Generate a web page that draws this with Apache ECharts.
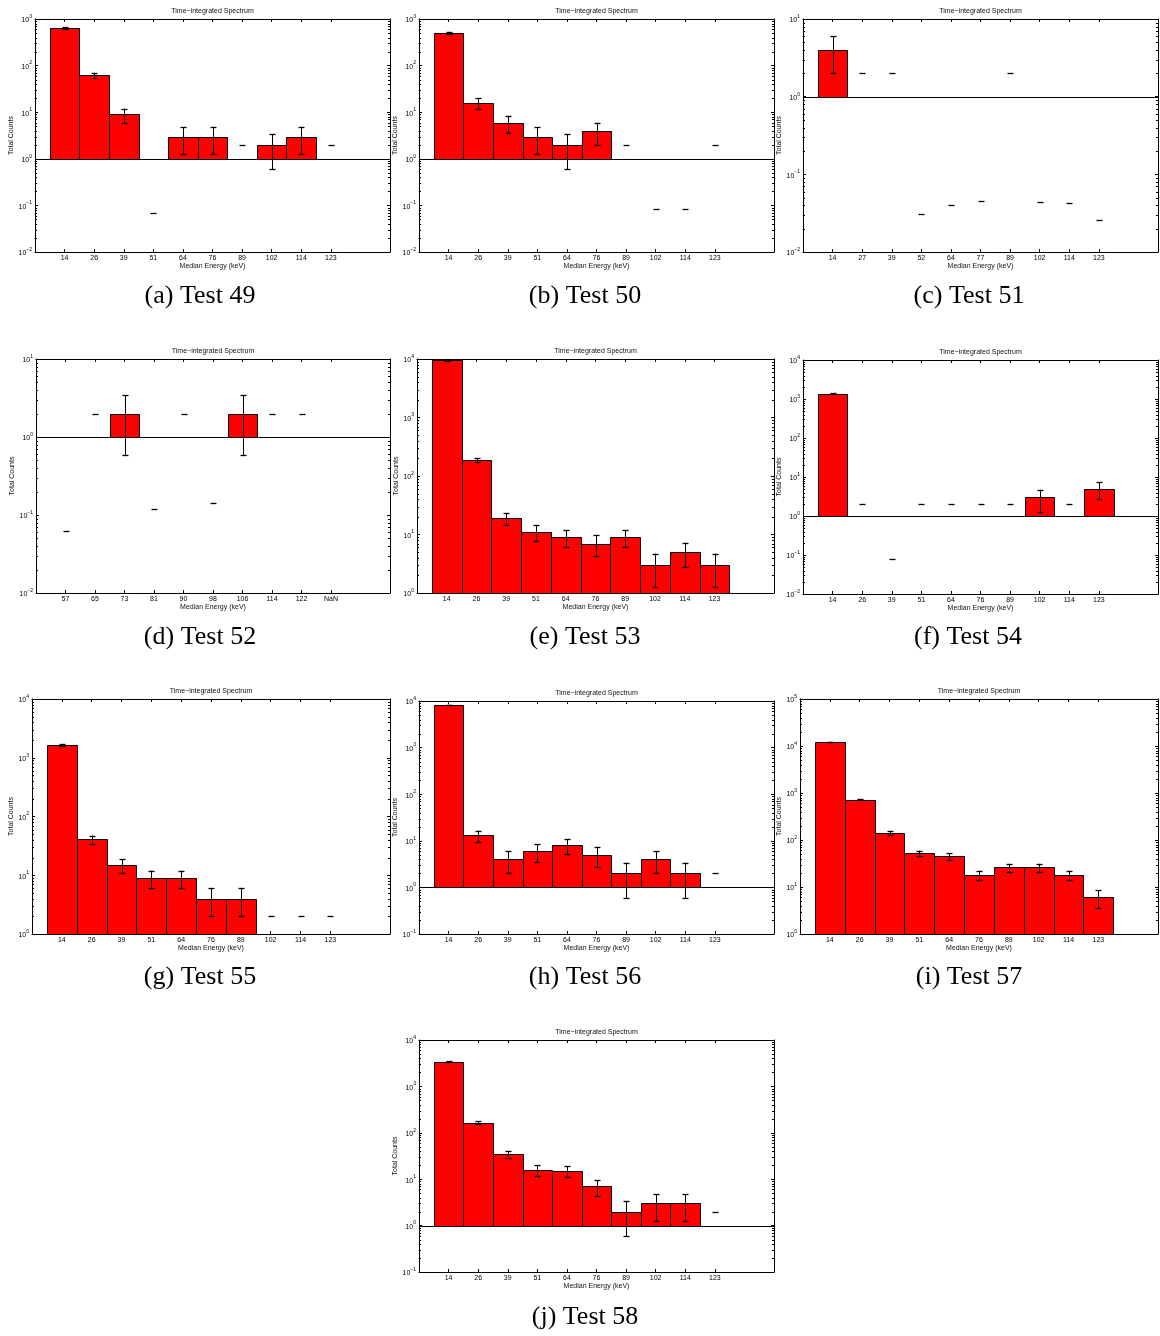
<!DOCTYPE html>
<html>
<head>
<meta charset="utf-8">
<title>Time-integrated Spectra, Tests 49-58</title>
<script src="https://cdn.jsdelivr.net/npm/echarts@6/dist/echarts.min.js"></script>
<style>
  html, body { margin: 0; padding: 0; background: #fff; }
  #main { width: 1160px; height: 1336px; }
</style>
</head>
<body>
<div id="main"></div>
<script>
// ---- Median energy bin labels (keV) ----
const energyLabels   = ['14', '26', '39', '51', '64', '76', '89', '102', '114', '123'];
const energyLabels51 = ['14', '27', '39', '52', '64', '77', '89', '102', '114', '123'];
const energyLabels52 = ['57', '65', '73', '81', '90', '98', '106', '114', '122', 'NaN'];

// ---- Total counts per bin, with error-bar lower / upper ends (null = not drawn) ----
const counts49  = [640, 62, 9, null, 3, 3, 1, 2, 3, 1];
const errLow49  = [615, 54, 6, null, 1.27, 1.27, null, 0.59, 1.27, null];
const errHigh49 = [665, 70, 12, 0.07, 4.73, 4.73, 2, 3.41, 4.73, 2];

const counts50  = [510, 16, 6, 3, 2, 4, 1, null, null, 1];
const errLow50  = [487, 12, 3.55, 1.27, 0.59, 2, null, null, null, null];
const errHigh50 = [533, 20, 8.45, 4.73, 3.41, 6, 2, 0.085, 0.083, 2];

const counts51  = [4, 1, 1, null, null, null, 1, null, null, null];
const errLow51  = [2, null, null, null, null, null, null, null, null, null];
const errHigh51 = [6, 2, 2, 0.031, 0.040, 0.045, 2, 0.044, 0.043, 0.026];

const counts52  = [null, 1, 2, null, 1, null, 2, 1, 1, null];
const errLow52  = [null, null, 0.59, null, null, null, 0.59, null, null, null];
const errHigh52 = [0.062, 2, 3.41, 0.12, 2, 0.143, 3.41, 2, 2, null];

const counts53  = [9500, 190, 19, 11, 9, 7, 9, 3, 5, 3];
const errLow53  = [9403, 176, 14.6, 7.7, 6, 4.35, 6, 1.27, 2.76, 1.27];
const errHigh53 = [9597, 204, 23.4, 14.3, 12, 9.65, 12, 4.73, 7.24, 4.73];

const counts54  = [1380, 1, null, 1, 1, 1, 1, 3, 1, 5];
const errLow54  = [1343, null, null, null, null, null, null, 1.27, null, 2.76];
const errHigh54 = [1417, 2, 0.077, 2, 2, 2, 2, 4.73, 2, 7.24];

const counts55  = [1650, 41, 15, 9, 9, 4, 4, 1, 1, 1];
const errLow55  = [1609, 34.6, 11.1, 6, 6, 2, 2, null, null, null];
const errHigh55 = [1691, 47.4, 18.9, 12, 12, 6, 6, 2, 2, 2];

const counts56  = [8300, 13, 4, 6, 8, 5, 2, 4, 2, 1];
const errLow56  = [8209, 9.4, 2, 3.55, 5.17, 2.76, 0.59, 2, 0.59, null];
const errHigh56 = [8391, 16.6, 6, 8.45, 10.83, 7.24, 3.41, 6, 3.41, 2];

const counts57  = [12000, 720, 140, 52, 45, 18, 26, 26, 18, 6];
const errLow57  = [11890, 693, 128, 44.8, 38.3, 13.8, 20.9, 20.9, 13.8, 3.55];
const errHigh57 = [12110, 747, 152, 59.2, 51.7, 22.2, 31.1, 31.1, 22.2, 8.45];

const counts58  = [3400, 165, 35, 16, 15, 7, 2, 3, 3, 1];
const errLow58  = [3342, 152, 29.1, 12, 11.1, 4.35, 0.59, 1.27, 1.27, null];
const errHigh58 = [3458, 178, 40.9, 20, 18.9, 9.65, 3.41, 4.73, 4.73, 2];

// ---- Log y-axis ranges ----
const yRange49 = [0.01, 1000];
const yRange50 = [0.01, 1000];
const yRange51 = [0.01, 10];
const yRange52 = [0.01, 10];
const yRange53 = [1, 10000];
const yRange54 = [0.01, 10000];
const yRange55 = [1, 10000];
const yRange56 = [0.1, 10000];
const yRange57 = [1, 100000];
const yRange58 = [0.1, 10000];

const captions = ['(a) Test 49', '(b) Test 50', '(c) Test 51', '(d) Test 52', '(e) Test 53',
                  '(f) Test 54', '(g) Test 55', '(h) Test 56', '(i) Test 57', '(j) Test 58'];

// ---- Panel layout: plot box and caption centre (px) ----
const panelLayout = [
  { left: 35,  top: 19,   width: 355, height: 233, cx: 200, cy: 296 },
  { left: 419, top: 19,   width: 355, height: 233, cx: 585, cy: 296 },
  { left: 803, top: 19,   width: 355, height: 233, cx: 969, cy: 296 },
  { left: 36,  top: 359,  width: 354, height: 234, cx: 200, cy: 637 },
  { left: 417, top: 359,  width: 357, height: 234, cx: 585, cy: 637 },
  { left: 803, top: 360,  width: 355, height: 234, cx: 968, cy: 637 },
  { left: 32,  top: 699,  width: 358, height: 235, cx: 200, cy: 977 },
  { left: 419, top: 701,  width: 355, height: 233, cx: 585, cy: 977 },
  { left: 800, top: 699,  width: 358, height: 235, cx: 969, cy: 977 },
  { left: 419, top: 1040, width: 355, height: 232, cx: 585, cy: 1317 }
];

const panels = [
  { labels: energyLabels,   counts: counts49, lo: errLow49, hi: errHigh49, yRange: yRange49 },
  { labels: energyLabels,   counts: counts50, lo: errLow50, hi: errHigh50, yRange: yRange50 },
  { labels: energyLabels51, counts: counts51, lo: errLow51, hi: errHigh51, yRange: yRange51 },
  { labels: energyLabels52, counts: counts52, lo: errLow52, hi: errHigh52, yRange: yRange52 },
  { labels: energyLabels,   counts: counts53, lo: errLow53, hi: errHigh53, yRange: yRange53 },
  { labels: energyLabels,   counts: counts54, lo: errLow54, hi: errHigh54, yRange: yRange54 },
  { labels: energyLabels,   counts: counts55, lo: errLow55, hi: errHigh55, yRange: yRange55 },
  { labels: energyLabels,   counts: counts56, lo: errLow56, hi: errHigh56, yRange: yRange56 },
  { labels: energyLabels,   counts: counts57, lo: errLow57, hi: errHigh57, yRange: yRange57 },
  { labels: energyLabels,   counts: counts58, lo: errLow58, hi: errHigh58, yRange: yRange58 }
];

const SANS = 'Liberation Sans, Arial, Helvetica, sans-serif';
const SERIF = 'Liberation Serif, Times New Roman, serif';
const snap = v => Math.round(v) + 0.5;

// "10" with a superscript exponent for the log tick labels
function powerLabel(v) {
  const e = Math.round(Math.log10(v));
  return '{b|10}{s|' + (e < 0 ? '\u2212' + (-e) : e) + '}';
}

const option = {
  animation: false,
  backgroundColor: '#fff',
  grid: [], xAxis: [], yAxis: [], series: [], graphic: []
};

panels.forEach((p, k) => {
  const L = panelLayout[k];
  option.grid.push({ left: L.left, top: L.top, width: L.width, height: L.height,
                     containLabel: false, outerBoundsMode: 'none' });

  const binPos = p.labels.map((_, i) => i + 1);
  const tickStyle = { color: '#000', width: 1 };
  const xBase = {
    gridIndex: k, type: 'value', min: 0, max: 12, interval: 1,
    splitLine: { show: false },
    axisLine: { show: true, onZero: false, lineStyle: { color: '#000', width: 1 } },
    axisTick: { show: true, inside: true, length: 3, customValues: binPos, lineStyle: tickStyle }
  };
  option.xAxis.push(Object.assign({}, xBase, {
    position: 'bottom',
    axisLabel: { show: true, customValues: binPos, formatter: v => p.labels[v - 1] || '',
                 fontSize: 7, margin: 3, color: '#000', fontFamily: SANS },
    name: 'Median Energy (keV)', nameLocation: 'middle', nameGap: 11,
    nameTextStyle: { fontSize: 7, color: '#111', fontFamily: SANS }
  }));
  option.xAxis.push(Object.assign({}, xBase, {
    position: 'top',
    axisLabel: { show: false },
    name: 'Time\u2212integrated Spectrum', nameLocation: 'middle', nameGap: 4,
    nameTextStyle: { fontSize: 7, color: '#111', fontFamily: SANS }
  }));

  const decades = Math.round(Math.log10(p.yRange[1] / p.yRange[0]));
  const yBase = {
    gridIndex: k, type: 'log', logBase: 10, min: p.yRange[0], max: p.yRange[1],
    splitNumber: decades,
    splitLine: { show: false },
    axisLine: { show: true, onZero: false, lineStyle: { color: '#000', width: 1 } },
    axisTick: { show: true, inside: true, length: 3, lineStyle: tickStyle }
  };
  option.yAxis.push(Object.assign({}, yBase, {
    position: 'left',
    axisLabel: {
      formatter: powerLabel, margin: 3, showMinLabel: true, showMaxLabel: true,
      rich: {
        b: { fontSize: 7, fontFamily: SANS, color: '#000', verticalAlign: 'bottom', lineHeight: 10 },
        s: { fontSize: 5, fontFamily: SANS, color: '#000', verticalAlign: 'top', lineHeight: 10 }
      }
    },
    name: 'Total Counts', nameLocation: 'middle', nameGap: 14,
    nameTextStyle: { fontSize: 7, color: '#111', fontFamily: SANS }
  }));
  option.yAxis.push(Object.assign({}, yBase, { position: 'right', axisLabel: { show: false } }));

  const xi = 2 * k, yi = 2 * k;

  // Baseline at one count (bars grow from it on the log scale)
  if (p.yRange[0] < 1) {
    option.series.push({
      type: 'custom', xAxisIndex: xi, yAxisIndex: yi, silent: true, z: 1,
      data: [[0, 1]],
      renderItem: (params, api) => {
        const a = api.coord([0, 1]), b = api.coord([12, 1]);
        const y = snap(a[1]);
        return { type: 'line', shape: { x1: a[0], y1: y, x2: b[0], y2: y },
                 style: { stroke: '#000', lineWidth: 1 } };
      }
    });
  }

  // Minor log ticks (2..9 within each decade) on both vertical edges
  const minorTicks = [];
  const e0 = Math.round(Math.log10(p.yRange[0])), e1 = Math.round(Math.log10(p.yRange[1]));
  for (let e = e0; e < e1; e++) {
    for (let m = 2; m <= 9; m++) minorTicks.push(m * Math.pow(10, e));
  }
  option.series.push({
    type: 'custom', xAxisIndex: xi, yAxisIndex: yi, silent: true, z: 3,
    data: minorTicks.map(v => [0, v]),
    renderItem: (params, api) => {
      const v = minorTicks[params.dataIndex];
      const l = api.coord([0, v]), r = api.coord([12, v]);
      const y = snap(l[1]);
      return { type: 'group', children: [
        { type: 'line', shape: { x1: l[0], y1: y, x2: l[0] + 2, y2: y }, style: { stroke: '#000', lineWidth: 1 } },
        { type: 'line', shape: { x1: r[0] - 2, y1: y, x2: r[0], y2: y }, style: { stroke: '#000', lineWidth: 1 } }
      ] };
    }
  });

  // Bars with Poisson error bars
  option.series.push({
    type: 'custom', xAxisIndex: xi, yAxisIndex: yi, z: 2,
    data: p.counts.map((c, i) => [i + 1, c == null ? 1 : c]),
    renderItem: (params, api) => {
      const i = params.dataIndex;
      const c = p.counts[i], lo = p.lo[i], hi = p.hi[i];
      const x = i + 1;
      const children = [];
      if (c != null) {
        const a = api.coord([x - 0.5, c]);
        const b = api.coord([x + 0.5, 1]);
        const x0 = snap(a[0]), x1 = snap(b[0]);
        const yt = snap(a[1]), yb = snap(b[1]);
        children.push({ type: 'rect',
          shape: { x: x0, y: yt, width: x1 - x0, height: yb - yt },
          style: { fill: '#ff0000', stroke: '#000', lineWidth: 1 } });
      }
      const cx = snap(api.coord([x, 1])[0]);
      if (lo != null && hi != null) {
        children.push({ type: 'line',
          shape: { x1: cx, y1: api.coord([x, lo])[1], x2: cx, y2: api.coord([x, hi])[1] },
          style: { stroke: '#000', lineWidth: 1 } });
      }
      [lo, hi].forEach(v => {
        if (v == null) return;
        const y = snap(api.coord([x, v])[1]);
        children.push({ type: 'line', shape: { x1: cx - 3, y1: y, x2: cx + 3, y2: y },
                        style: { stroke: '#000', lineWidth: 1.3 } });
      });
      return { type: 'group', children };
    }
  });

  // Sub-figure caption
  option.graphic.push({
    type: 'text', x: L.cx, y: L.cy,
    style: { text: captions[k], fontFamily: SERIF, fontSize: 26, fill: '#000',
             align: 'center', verticalAlign: 'middle',
             textAlign: 'center', textVerticalAlign: 'middle' }
  });
});

const chart = echarts.init(document.getElementById('main'), null, { renderer: 'canvas' });
chart.setOption(option);
</script>
</body>
</html>
